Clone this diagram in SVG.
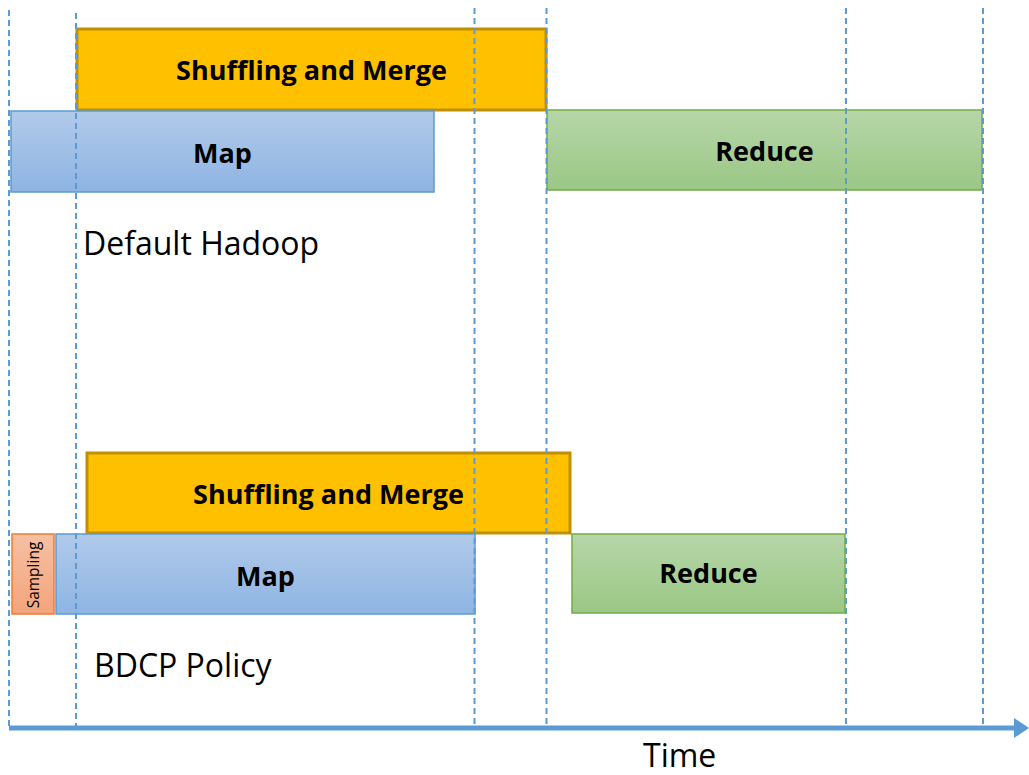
<svg xmlns="http://www.w3.org/2000/svg" width="1029" height="775" viewBox="0 0 1029 775">
<style>
.lbl{font-family:"Open Sans","Liberation Sans",sans-serif;font-weight:bold;font-size:27px;fill:#000;text-anchor:middle}
.cap{font-family:"Open Sans","Liberation Sans",sans-serif;font-size:32px;fill:#000}
.shuf{fill:#ffc000;stroke:#bf9000;stroke-width:3}
.map{fill:url(#gMap);stroke:#5b9bd5;stroke-width:1.5}
.red{fill:url(#gRed);stroke:#70ad47;stroke-width:1.5}
.smp{fill:url(#gSmp);stroke:#ed7d31;stroke-width:1.5}
.guide{stroke:#5b9bd5;stroke-width:2;stroke-dasharray:6 4;fill:none}
</style>
<defs>
<linearGradient id="gMap" x1="0" y1="0" x2="0" y2="1"><stop offset="0" stop-color="#b1caea"/><stop offset="1" stop-color="#8eb4e3"/></linearGradient>
<linearGradient id="gRed" x1="0" y1="0" x2="0" y2="1"><stop offset="0" stop-color="#b6d6a8"/><stop offset="1" stop-color="#9bc785"/></linearGradient>
<linearGradient id="gSmp" x1="0" y1="0" x2="0" y2="1"><stop offset="0" stop-color="#f6c0a4"/><stop offset="1" stop-color="#f3a47c"/></linearGradient>
<marker id="arr" markerWidth="4" markerHeight="4" refX="0" refY="2" orient="auto" markerUnits="strokeWidth"><path d="M0,0 L3,2 L0,4 Z" fill="#5b9bd5"/></marker>
</defs>
<g id="default-shuffle"><rect class="shuf" x="77" y="29" width="469" height="81"/><text class="lbl" x="311.5" y="80">Shuffling and Merge</text></g>
<g id="default-map"><rect class="map" x="11" y="111" width="423" height="81"/><text class="lbl" x="222.5" y="163">Map</text></g>
<g id="default-reduce"><rect class="red" x="547" y="110" width="435" height="80"/><text class="lbl" x="764.5" y="161">Reduce</text></g>
<g id="default-caption"><text class="cap" x="83" y="255">Default Hadoop</text></g>
<g id="bdcp-shuffle"><rect class="shuf" x="87" y="453" width="483" height="80"/><text class="lbl" x="328.5" y="504">Shuffling and Merge</text></g>
<g id="bdcp-sampling"><rect class="smp" x="12" y="534" width="42" height="80"/><text transform="translate(38.5,575) rotate(-90)" style="font-family:'Open Sans','Liberation Sans',sans-serif;font-size:15.5px;text-anchor:middle">Sampling</text></g>
<g id="bdcp-map"><rect class="map" x="56" y="534" width="419" height="80"/><text class="lbl" x="265.5" y="586">Map</text></g>
<g id="bdcp-reduce"><rect class="red" x="572" y="534" width="273" height="79"/><text class="lbl" x="708.5" y="583">Reduce</text></g>
<g id="bdcp-caption"><text class="cap" x="94" y="677">BDCP Policy</text></g>
<g id="connectors">
<line class="guide" x1="9" y1="10" x2="9" y2="728"/>
<line class="guide" x1="76" y1="13" x2="76" y2="728"/>
<line class="guide" x1="474.5" y1="8" x2="474.5" y2="728"/>
<line class="guide" x1="546.5" y1="8" x2="546.5" y2="728"/>
<line class="guide" x1="846" y1="8" x2="846" y2="728"/>
<line class="guide" x1="983" y1="8" x2="983" y2="728"/>
<line x1="9" y1="728" x2="1014" y2="728" stroke="#5b9bd5" stroke-width="5" marker-end="url(#arr)"/>
</g>
<g id="axis-label"><text class="cap" x="643" y="767">Time</text></g>
</svg>
